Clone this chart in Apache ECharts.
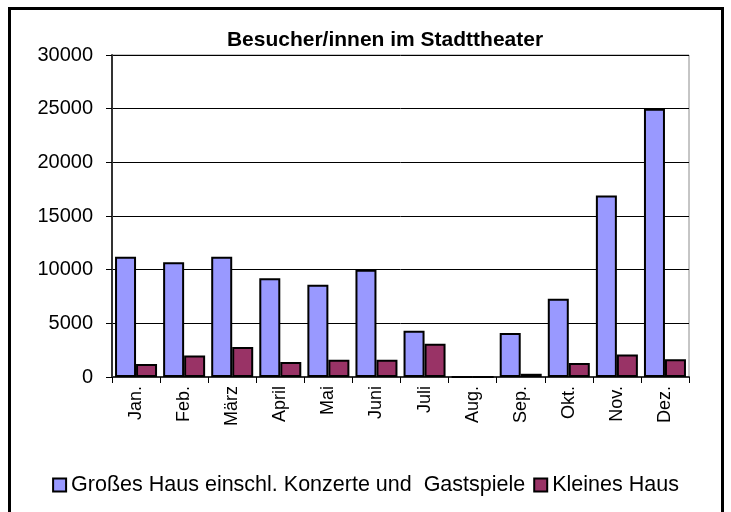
<!DOCTYPE html>
<html>
<head>
<meta charset="utf-8">
<script src="https://cdn.jsdelivr.net/npm/echarts@6/dist/echarts.min.js"></script>
<style>
  html, body { margin: 0; padding: 0; background: #fff; }
  #main { width: 731px; height: 512px; }
</style>
</head>
<body>
<div id="main"></div>
<script>
const months = ["Jan.", "Feb.", "März", "April", "Mai", "Juni", "Juli", "Aug.", "Sep.", "Okt.", "Nov.", "Dez."];
const grossesHaus = [11200, 10700, 11200, 9200, 8600, 10000, 4300, 0, 4100, 7300, 16900, 25000];
const kleinesHaus = [1200, 2000, 2800, 1400, 1600, 1600, 3100, 0, 300, 1300, 2100, 1650];
const yTicks = [0, 5000, 10000, 15000, 20000, 25000, 30000];

const chart = echarts.init(document.getElementById("main"));
const font = "Liberation Sans, Arial, sans-serif";

const option = {
  animation: false,
  textStyle: { fontFamily: font, color: "#000" },
  title: {
    text: "Besucher/innen im Stadttheater",
    left: 380,
    top: 25,
    textAlign: "center",
    textStyle: { fontFamily: font, fontSize: 21, fontWeight: "bold", color: "#000" }
  },
  graphic: [{
    type: "rect",
    shape: { x: 9.5, y: 8.5, width: 713, height: 512 },
    style: { fill: null, stroke: "#000", lineWidth: 3 },
    silent: true
  }],
  legend: {
    left: "center",
    top: 469,
    itemWidth: 13,
    itemHeight: 13,
    itemGap: 8,
    icon: "rect",
    textStyle: { fontFamily: font, fontSize: 21.5, color: "#000" },
    data: ["Großes Haus einschl. Konzerte und  Gastspiele", "Kleines Haus"]
  },
  grid: {
    left: 112, right: 42, top: 55, bottom: 135,
    show: true, borderColor: "#8c8c8c", borderWidth: 1
  },
  xAxis: {
    type: "category",
    data: months,
    axisLine: { lineStyle: { color: "#333", width: 2 } },
    axisTick: { show: true, length: 6, lineStyle: { color: "#000" } },
    axisLabel: { rotate: 90, fontSize: 18, margin: 9, color: "#000", fontFamily: font }
  },
  yAxis: {
    type: "value",
    min: yTicks[0],
    max: yTicks[yTicks.length - 1],
    interval: yTicks[1] - yTicks[0],
    axisLine: { show: true, lineStyle: { color: "#333", width: 2 } },
    axisTick: { show: true, length: 6, lineStyle: { color: "#000" } },
    axisLabel: { fontSize: 20, margin: 19, color: "#000", fontFamily: font, formatter: v => String(v) },
    splitLine: { lineStyle: { color: "#000", width: 1 } }
  },
  series: [
    {
      name: "Großes Haus einschl. Konzerte und  Gastspiele",
      type: "bar",
      data: grossesHaus,
      barWidth: 21,
      barGap: "0%",
      itemStyle: { color: "#9999ff", borderColor: "#000", borderWidth: 2 }
    },
    {
      name: "Kleines Haus",
      type: "bar",
      data: kleinesHaus,
      barWidth: 21,
      itemStyle: { color: "#993366", borderColor: "#000", borderWidth: 2 }
    }
  ]
};

chart.setOption(option);
</script>
</body>
</html>
